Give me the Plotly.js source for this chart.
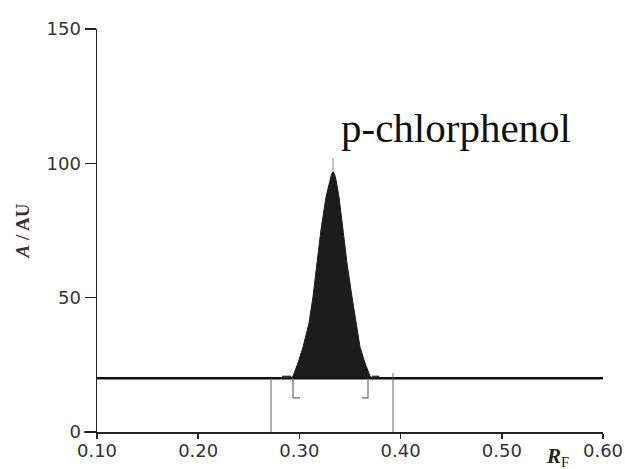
<!DOCTYPE html>
<html>
<head>
<meta charset="utf-8">
<script src="https://cdn.plot.ly/plotly-3.0.1.min.js"></script>
<style>html,body{margin:0;padding:0;background:#fff;}#chart{width:625px;height:469px;}</style>
</head>
<body>
<div id="chart"></div>
<script>
// Peak outline (R_F, A/AU)
const peakX = [0.2920, 0.2937, 0.2986, 0.3036, 0.3095, 0.3134, 0.3174, 0.3213, 0.3263, 0.3302, 0.3318, 0.3332, 0.3347, 0.3362, 0.3391, 0.3431, 0.3470, 0.3520, 0.3559, 0.3599, 0.3648, 0.3698, 0.3715];
const peakY = [20, 20.8, 25.7, 31.6, 40.6, 50.2, 62.9, 75.2, 87.5, 93.8, 96.0, 96.8, 96.0, 93.8, 87.5, 75.2, 62.9, 50.2, 40.6, 31.6, 25.7, 20.8, 20];
// Baseline
const baseX = [0.10, 0.60];
const baseY = [20, 20];
// Integration limits (vertical markers)
const limitLeftX = [0.272, 0.272];
const limitLeftY = [0, 20];
const limitRightX = [0.3925, 0.3925];
const limitRightY = [0, 22];
// Peak brackets
const bracketLX = [0.2937, 0.2937, 0.3006];
const bracketLY = [20, 12.7, 12.7];
const bracketRX = [0.3678, 0.3678, 0.3619];
const bracketRY = [20, 12.7, 12.7];
// Peak apex marker
const apexX = [0.3332, 0.3332];
const apexY = [96.8, 102];
// Small baseline bumps
const bumpLX = [0.2830, 0.2920];
const bumpLY = [20.6, 20.6];
const bumpRX = [0.3715, 0.3790];
const bumpRY = [20.6, 20.6];
// Ticks
const xTicks = [0.10, 0.20, 0.30, 0.40, 0.50, 0.60];
const xTickText = ['0.10', '0.20', '0.30', '0.40', '0.50', '0.60'];
const yTicks = [0, 50, 100, 150];
const peakLabel = 'p-chlorphenol';

const traces = [
  {x: peakX, y: peakY, mode: 'lines', fill: 'toself', fillcolor: '#1c1c1c', line: {color: '#1c1c1c', width: 1}, hoverinfo: 'skip'},
  {x: baseX, y: baseY, mode: 'lines', line: {color: '#111', width: 2.5}},
  {x: limitLeftX, y: limitLeftY, mode: 'lines', line: {color: '#666', width: 1}},
  {x: limitRightX, y: limitRightY, mode: 'lines', line: {color: '#666', width: 1}},
  {x: bracketLX, y: bracketLY, mode: 'lines', line: {color: '#7d6660', width: 1.2}},
  {x: bracketRX, y: bracketRY, mode: 'lines', line: {color: '#7d6660', width: 1.2}},
  {x: apexX, y: apexY, mode: 'lines', line: {color: '#888', width: 1}},
  {x: bumpLX, y: bumpLY, mode: 'lines', line: {color: '#333', width: 2}},
  {x: bumpRX, y: bumpRY, mode: 'lines', line: {color: '#333', width: 2}}
];

const layout = {
  width: 625, height: 469,
  margin: {l: 97, r: 22, t: 29, b: 37},
  paper_bgcolor: '#fff', plot_bgcolor: '#fff',
  showlegend: false,
  xaxis: {
    range: [0.10, 0.60], tickvals: xTicks, ticktext: xTickText,
    showline: true, linecolor: '#222', linewidth: 1.5,
    ticks: 'outside', ticklen: 5, tickcolor: '#222', tickwidth: 1.5,
    ticklabelstandoff: -3,
    showgrid: false, zeroline: false,
    tickfont: {family: 'DejaVu Sans, Arial, sans-serif', size: 18, color: '#333'}
  },
  yaxis: {
    range: [0, 150], tickvals: yTicks,
    showline: true, linecolor: '#222', linewidth: 1.5,
    ticks: 'outside', ticklen: 11, tickcolor: '#222', tickwidth: 1.5,
    showgrid: false, zeroline: false,
    tickfont: {family: 'DejaVu Sans, Arial, sans-serif', size: 18, color: '#333'},
    title: {text: '<b><i>A</i> / AU</b>', font: {family: 'Liberation Serif, Times New Roman, serif', size: 19, color: '#333'}, standoff: 12}
  },
  annotations: [
    {x: 0.4548, y: 113, xref: 'x', yref: 'y', text: peakLabel, showarrow: false,
     font: {family: 'Liberation Serif, Times New Roman, serif', size: 41, color: '#111'}, xanchor: 'center', yanchor: 'middle'},
    {x: 0.5555, y: -0.062, xref: 'x', yref: 'paper', text: '<b><i>R</i></b><sub>F</sub>', showarrow: false,
     font: {family: 'Liberation Serif, Times New Roman, serif', size: 21, color: '#222'}, xanchor: 'center', yanchor: 'middle'}
  ],
  shapes: [
    {type: 'line', xref: 'paper', yref: 'paper', x0: -13/506, x1: 0, y0: 0, y1: 0, line: {color: '#222', width: 1.5}},
    {type: 'line', xref: 'paper', yref: 'paper', x0: 0, x1: 0, y0: 0, y1: -5/403, line: {color: '#222', width: 1.5}}
  ]
};

Plotly.newPlot('chart', traces, layout, {displayModeBar: false, staticPlot: true});
</script>
</body>
</html>
